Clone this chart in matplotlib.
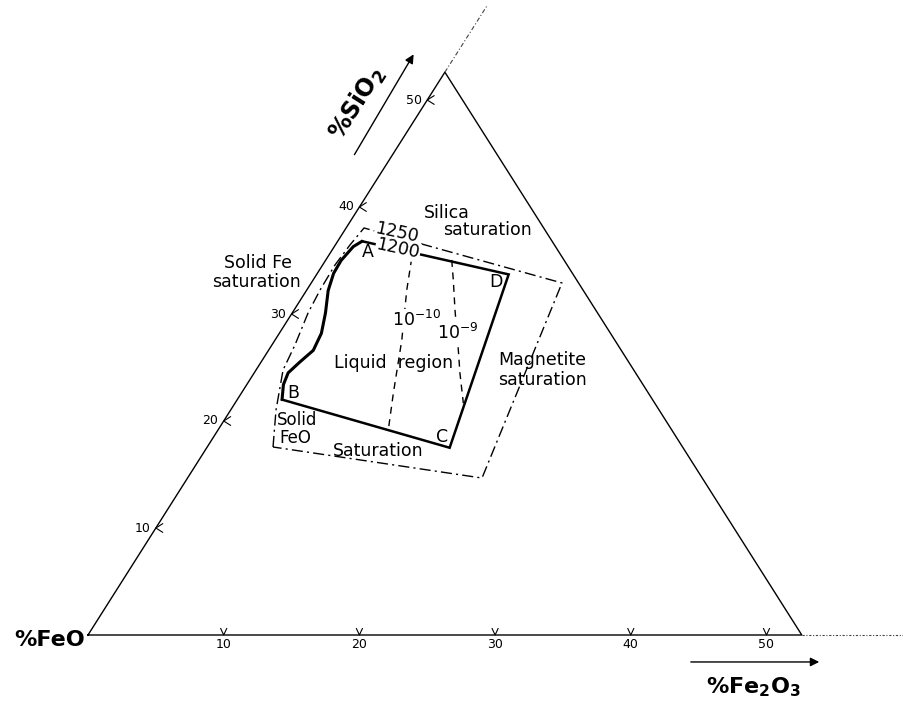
import matplotlib
matplotlib.use("Agg")
import matplotlib.pyplot as plt
import numpy as np

# ternary corner FeO - Fe2O3 - SiO2, values in wt %
side = 52.6
ticks = [10, 20, 30, 40, 50]

# liquid region outline A-D-C-B and the curved Fe-saturation side B->A
corner_names = ["A", "D", "C", "B"]
corner_fe2o3 = [1.8, 14.15, 17.9, 3.3]
corner_sio2 = [36.8, 33.7, 17.5, 22.0]
curve_fe2o3 = [3.3, 2.7, 2.5, 2.85, 3.3, 3.1, 2.45, 1.6, 1.2, 1.15, 1.4, 1.8]
curve_sio2 = [22.0, 23.4, 24.5, 25.5, 26.6, 28.2, 30.1, 32.2, 33.8, 35.0, 36.3, 36.8]

# 1250 C boundary (dash-dot)
b1250_fe2o3 = [4.85, 3.34, 1.99, 1.70, 1.17, 0.98, 0.91, 1.08, 1.32, 18.48, 21.70, 4.85]
b1250_sio2 = [17.57, 21.03, 24.77, 27.10, 30.09, 32.24, 34.58, 36.45, 38.04, 32.90, 14.67, 17.57]

# oxygen isobars
iso10_fe2o3 = [6.25, 7.37, 9.34, 11.21, 12.55]
iso10_sio2 = [35.21, 32.24, 27.57, 22.58, 19.16]
iso9_fe2o3 = [9.28, 10.33, 11.86, 13.97, 15.18, 16.83]
iso9_sio2 = [35.05, 33.18, 30.37, 26.64, 24.46, 21.66]


def tern(b, s):
    b = np.asarray(b, float)
    s = np.asarray(s, float)
    return b + s / 2, s


SX, SY, X0, Y0 = 13.57, 10.70, 88, 635
fig = plt.figure(figsize=(9.04, 7.04), dpi=100)
ax = fig.add_axes([0, 0, 1, 1])
ax.set_xlim(-X0 / SX, (904 - X0) / SX)
ax.set_ylim((Y0 - 704) / SY, Y0 / SY)
ax.axis("off")

# triangle
tx, ty = tern([0, side, 0, 0], [0, 0, side, 0])
ax.plot(tx, ty, color="black", lw=1.0)
# extensions
ex, ey = tern([0, 0], [side, 58.8])
ax.plot(ex, ey, color="#444", lw=0.8, ls=(0, (4, 2, 1, 2)))
ex, ey = tern([side, 61], [0, 0])
ax.plot(ex, ey, color="#444", lw=0.8, ls=(0, (2, 1.5, 1, 1.5)))

# ticks
for t in ticks:
    x, y = tern(t, 0)
    ax.plot([x - 0.22, x, x + 0.22], [y + 0.6, y, y + 0.6], color="black", lw=0.8)
    ax.text(x, y - 0.85, str(t), ha="center", va="center", fontsize=9)
    x, y = tern(0, t)
    ax.plot([x + 0.5, x, x + 0.5], [y + 0.4, y, y - 0.4], color="black", lw=0.8)
    ax.text(x - 0.4, y, str(t), ha="right", va="center", fontsize=9)

# liquid region
cx, cy = tern(corner_fe2o3, corner_sio2)
ax.plot(cx, cy, color="black", lw=1.8, solid_joinstyle="miter")
vx, vy = tern(curve_fe2o3, curve_sio2)
ax.plot(vx, vy, color="black", lw=2.2, solid_capstyle="round")

ax.plot(*tern(b1250_fe2o3, b1250_sio2), color="black", lw=1.0,
        ls=(0, (8, 3, 1.5, 3)))
ax.plot(*tern(iso10_fe2o3, iso10_sio2), color="black", lw=1.0, ls=(0, (5, 4)))
ax.plot(*tern(iso9_fe2o3, iso9_sio2), color="black", lw=1.0, ls=(0, (5, 4)))

txt = dict(fontsize=12.5, ha="center", va="center", family="DejaVu Sans")
wb = dict(facecolor="white", edgecolor="none", pad=0.5)
ax.text(26.46, 39.44, "Silica", **txt)
ax.text(29.40, 37.85, "saturation", **txt)
ax.text(12.53, 34.77, "Solid Fe", **txt)
ax.text(12.38, 32.99, "saturation", **txt)
ax.text(30.21, 25.70, "Magnetite", fontsize=12.5, ha="left", va="center")
ax.text(30.21, 23.83, "saturation", fontsize=12.5, ha="left", va="center")
ax.text(22.55, 25.42, "Liquid  region", **txt)
ax.text(15.40, 20.10, "Solid", fontsize=12, ha="center", va="center")
ax.text(15.25, 18.45, "FeO", fontsize=12, ha="center", va="center")
ax.text(21.37, 17.20, "Saturation", **txt)
for name, (px, py) in zip(corner_names, [(20.63, 35.79), (30.07, 32.99),
                                          (26.09, 18.50), (15.11, 22.62)]):
    ax.text(px, py, name, **txt)
ax.text(24.24, 29.44, "10$^{-10}$", bbox=wb, **txt)
ax.text(27.27, 28.22, "10$^{-9}$", bbox=wb, **txt)
ax.text(22.77, 37.57, "1250", rotation=-12, bbox=wb, **txt)
ax.text(22.84, 36.07, "1200", rotation=-12, bbox=wb, **txt)

# axis titles and arrows
bold = dict(fontsize=16, fontweight="bold", va="center")
ax.text(-0.22, -0.47, "%FeO", ha="right", **bold)
ax.text(49.0, -4.86, "%Fe$_\\mathbf{2}$O$_\\mathbf{3}$", ha="center", **bold)
ax.text(19.82, 49.72, "%SiO$_\\mathbf{2}$", ha="center", rotation=57.6,
        rotation_mode="anchor", fontsize=17, fontweight="bold", va="center")
arrow = dict(arrowstyle="-|>", color="black", lw=1.0, mutation_scale=13)
ax.annotate("", xy=(54.09, -2.52), xytext=(44.22, -2.52), arrowprops=arrow)
ax.annotate("", xy=(24.10, 54.49), xytext=(19.53, 44.67), arrowprops=arrow)

fig.savefig("out.png", dpi=100)
